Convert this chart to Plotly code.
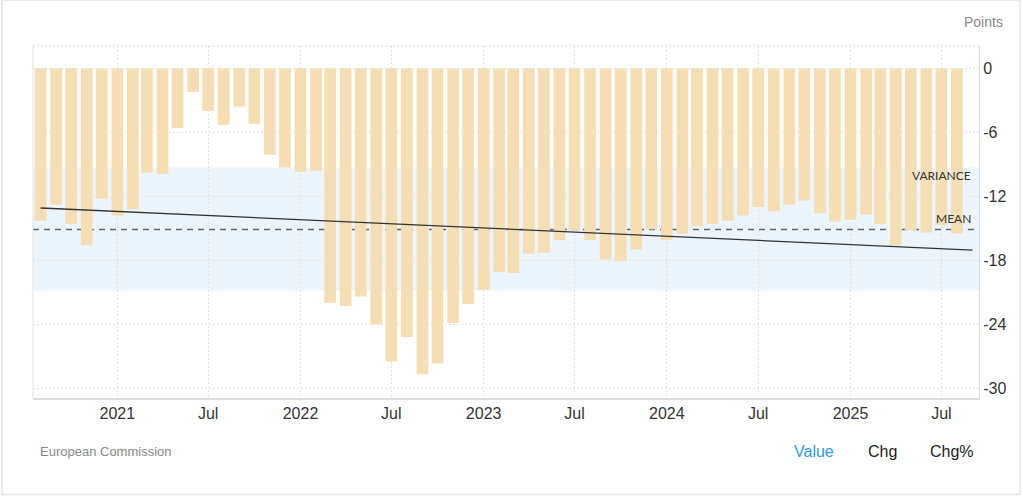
import plotly.graph_objects as go

# ---- data ----
months = [
    "2020-08-01", "2020-09-01", "2020-10-01", "2020-11-01", "2020-12-01",
    "2021-01-01", "2021-02-01", "2021-03-01", "2021-04-01", "2021-05-01", "2021-06-01",
    "2021-07-01", "2021-08-01", "2021-09-01", "2021-10-01", "2021-11-01", "2021-12-01",
    "2022-01-01", "2022-02-01", "2022-03-01", "2022-04-01", "2022-05-01", "2022-06-01",
    "2022-07-01", "2022-08-01", "2022-09-01", "2022-10-01", "2022-11-01", "2022-12-01",
    "2023-01-01", "2023-02-01", "2023-03-01", "2023-04-01", "2023-05-01", "2023-06-01",
    "2023-07-01", "2023-08-01", "2023-09-01", "2023-10-01", "2023-11-01", "2023-12-01",
    "2024-01-01", "2024-02-01", "2024-03-01", "2024-04-01", "2024-05-01", "2024-06-01",
    "2024-07-01", "2024-08-01", "2024-09-01", "2024-10-01", "2024-11-01", "2024-12-01",
    "2025-01-01", "2025-02-01", "2025-03-01", "2025-04-01", "2025-05-01", "2025-06-01",
    "2025-07-01", "2025-08-01",
]
values = [
    -14.3, -12.8, -14.6, -16.6, -12.2,
    -13.8, -13.2, -9.8, -9.9, -5.6, -2.2,
    -4.0, -5.3, -3.6, -5.2, -8.1, -9.3,
    -9.7, -9.6, -22.0, -22.3, -21.4, -24.0,
    -27.5, -25.2, -28.7, -27.7, -23.9, -22.1,
    -20.8, -19.1, -19.2, -17.4, -17.3, -16.1,
    -15.2, -16.1, -17.9, -18.1, -17.0, -15.1,
    -16.1, -15.5, -14.8, -14.6, -14.3, -13.8,
    -13.0, -13.4, -12.8, -12.4, -13.6, -14.4,
    -14.2, -13.7, -14.6, -16.6, -15.2, -15.4,
    -14.7, -15.5,
]
mean_value = -15.13
variance_low = -20.84
variance_high = -9.31
trend_x = ["2020-08-01", "2025-09-01"]
trend_y = [-13.1, -17.05]

tick_dates = ["2021-01-01", "2021-07-01", "2022-01-01", "2022-07-01", "2023-01-01",
              "2023-07-01", "2024-01-01", "2024-07-01", "2025-01-01", "2025-07-01"]
tick_text = ["2021", "Jul", "2022", "Jul", "2023", "Jul", "2024", "Jul", "2025", "Jul"]
y_ticks = [0, -6, -12, -18, -24, -30]

DAY_MS = 86400000
FONT = "Liberation Sans"

fig = go.Figure()
fig.add_trace(go.Bar(
    x=months, y=values,
    width=[23.3 * DAY_MS] * len(months),
    marker=dict(color="#F5DEB3", line=dict(width=0)),
    hoverinfo="x+y", showlegend=False,
))
fig.add_trace(go.Scatter(
    x=trend_x, y=trend_y, mode="lines",
    line=dict(color="#333333", width=1.3),
    hoverinfo="skip", showlegend=False,
))

shapes = [
    # variance band
    dict(type="rect", xref="paper", yref="y", x0=0, x1=1, y0=variance_low, y1=variance_high,
         fillcolor="#ECF5FB", line=dict(width=0), layer="below"),
    # mean line
    dict(type="line", xref="paper", yref="y", x0=0, x1=1, y0=mean_value, y1=mean_value,
         line=dict(color="#5f6670", width=1.5, dash="6px,5px"), layer="below"),
    # top dotted frame line
    dict(type="line", xref="paper", yref="paper", x0=0, x1=1, y0=1, y1=1,
         line=dict(color="#dddddd", width=1, dash="2px,2px"), layer="below"),
    # left frame line
    dict(type="line", xref="paper", yref="paper", x0=0, x1=0, y0=0, y1=1,
         line=dict(color="#e3e3e3", width=1), layer="below"),
    # outer card border
    dict(type="rect", xref="paper", yref="paper",
         x0=-0.0328, x1=1.0433, y0=-0.2742, y1=1.1307,
         line=dict(color="#e6e6e6", width=1.5), layer="below"),
]

annotations = [
    dict(text="VARIANCE", xref="paper", yref="y", x=0.9937, y=-10.09,
         xanchor="right", yanchor="middle", showarrow=False,
         font=dict(family="Lato", size=12, color="#333333")),
    dict(text="MEAN", xref="paper", yref="y", x=0.9937, y=-14.12,
         xanchor="right", yanchor="middle", showarrow=False,
         font=dict(family="Lato", size=12, color="#333333")),
    dict(text="Points", xref="paper", yref="paper", x=1.0275, y=1.068,
         xanchor="right", yanchor="middle", showarrow=False,
         font=dict(family=FONT, size=14, color="#888888")),
    dict(text="European Commission", xref="paper", yref="paper", x=0.0053, y=-0.1534,
         xanchor="left", yanchor="middle", showarrow=False,
         font=dict(family=FONT, size=13, color="#888888")),
    dict(text="Value", xref="paper", yref="paper", x=(792 - 33) / 946, y=-0.1534,
         xanchor="left", yanchor="middle", showarrow=False,
         font=dict(family=FONT, size=16, color="#2D9CF0")),
    dict(text="Chg", xref="paper", yref="paper", x=(866 - 33) / 946, y=-0.1534,
         xanchor="left", yanchor="middle", showarrow=False,
         font=dict(family=FONT, size=16, color="#222222")),
    dict(text="Chg%", xref="paper", yref="paper", x=(928 - 33) / 946, y=-0.1534,
         xanchor="left", yanchor="middle", showarrow=False,
         font=dict(family=FONT, size=16, color="#222222")),
]

fig.update_layout(
    width=1023, height=498,
    margin=dict(l=33, r=44, t=46, b=100),
    paper_bgcolor="white", plot_bgcolor="white",
    bargap=0.2,
    shapes=shapes, annotations=annotations,
    showlegend=False,
    xaxis=dict(
        type="date", range=["2020-07-17", "2025-09-14"],
        tickvals=tick_dates, ticktext=tick_text,
        tickfont=dict(family=FONT, size=16, color="#333333"),
        showgrid=True, gridcolor="#e2e2e2", griddash="2px,2px", gridwidth=1,
        showline=True, linecolor="#dddddd", linewidth=1.5,
        ticks="", zeroline=False,
    ),
    yaxis=dict(
        side="right", range=[-30.93, 2.1],
        tickvals=y_ticks, ticktext=[str(v) for v in y_ticks],
        tickfont=dict(family=FONT, size=16, color="#333333"),
        showgrid=True, gridcolor="#e2e2e2", griddash="2px,2px", gridwidth=1,
        showline=True, linecolor="#dddddd", linewidth=1,
        ticks="", zeroline=False,
    ),
)

fig.write_html(
    "out.html",
    config={"displayModeBar": False},
    post_script="document.body.style.margin='0';document.body.style.padding='0';",
)
